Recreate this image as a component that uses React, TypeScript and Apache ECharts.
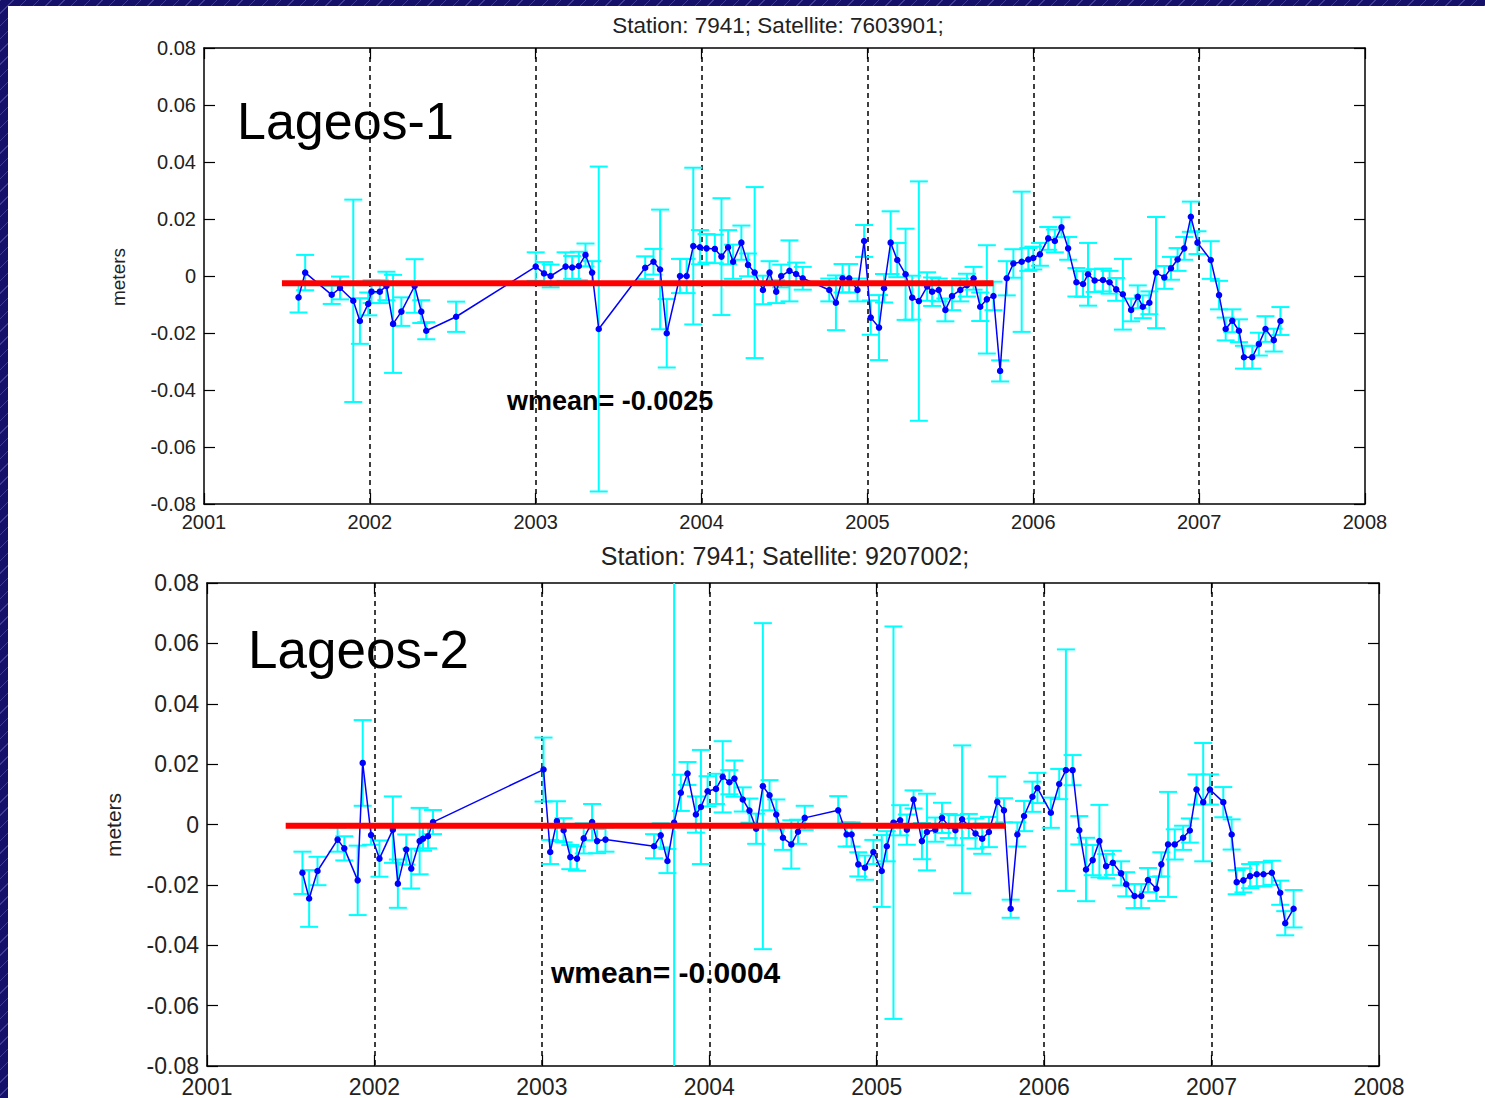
import React, { useEffect, useRef } from "react";
import * as echarts from "echarts";

// ---- Lageos-1 (satellite 7603901) residuals ----
const L1_YEARS = [
  2001.57, 2001.61, 2001.77, 2001.82, 2001.90, 2001.94, 2001.99, 2002.01, 2002.06, 2002.10, 2002.14, 2002.19, 2002.27, 2002.31, 2002.34, 2002.52,
  2003.00, 2003.05, 2003.09, 2003.18, 2003.22, 2003.26, 2003.30, 2003.34, 2003.38,
  2003.66, 2003.71, 2003.75, 2003.79, 2003.87, 2003.91, 2003.95, 2003.99, 2004.03, 2004.08, 2004.12, 2004.16, 2004.19, 2004.24, 2004.28, 2004.32, 2004.37, 2004.41, 2004.45, 2004.48, 2004.53, 2004.57, 2004.61,
  2004.77, 2004.81, 2004.85, 2004.89, 2004.94, 2004.98, 2005.02, 2005.07, 2005.10, 2005.14, 2005.18, 2005.23, 2005.27, 2005.31, 2005.36, 2005.39, 2005.43, 2005.47, 2005.51, 2005.56, 2005.60, 2005.64, 2005.68, 2005.72, 2005.76, 2005.80, 2005.84, 2005.88,
  2005.93, 2005.97, 2006.00, 2006.04, 2006.09, 2006.13, 2006.17, 2006.21, 2006.26, 2006.30, 2006.33, 2006.37, 2006.42, 2006.46, 2006.50, 2006.54, 2006.59, 2006.63, 2006.66, 2006.70, 2006.74, 2006.79, 2006.83, 2006.87, 2006.91, 2006.95, 2006.99, 2007.07, 2007.12, 2007.16, 2007.20, 2007.24, 2007.27, 2007.32, 2007.36, 2007.40, 2007.45, 2007.49,
];
const L1_VALUES = [
  -0.0075, 0.0012, -0.0066, -0.0042, -0.0087, -0.0158, -0.0098, -0.0055, -0.0055, -0.0035, -0.0168, -0.0125, -0.0035, -0.0125, -0.0192, -0.0143,
  0.0033, 0.0009, 0.0, 0.0033, 0.0030, 0.0035, 0.0074, 0.0012, -0.0186,
  0.0029, 0.0050, 0.0023, -0.0201, 0.0, 0.0, 0.0105, 0.0101, 0.0097, 0.0095, 0.0068, 0.0101, 0.0050, 0.0117, 0.0039, 0.0012, -0.0049, 0.0012, -0.0055, 0.0, 0.0018, 0.0007, -0.0008,
  -0.0049, -0.0094, -0.0008, -0.0008, -0.0049, 0.0123, -0.0146, -0.0181, -0.0043, 0.0117, 0.0056, 0.0006, -0.0076, -0.0088, -0.0037, -0.0055, -0.0049, -0.0119, -0.0070, -0.0049, -0.0032, -0.0008, -0.0108, -0.0082, -0.0070, -0.0333, -0.0008, 0.0044,
  0.0050, 0.0058, 0.0063, 0.0076, 0.0132, 0.0123, 0.0171, 0.0097, -0.0022, -0.0028, 0.0006, -0.0016, -0.0014, -0.0022, -0.0047, -0.0064, -0.0119, -0.0073, -0.0108, -0.0094, 0.0012, -0.0005, 0.0027, 0.0058, 0.0097, 0.0208, 0.0117, 0.0056, -0.0067, -0.0186, -0.0157, -0.0192, -0.0285, -0.0285, -0.0239, -0.0186, -0.0225, -0.0158,
];
const L1_ERRORS = [
  0.0053, 0.0062, 0.0032, 0.004, 0.0355, 0.008, 0.004, 0.004, 0.004, 0.005, 0.0172, 0.005, 0.0094, 0.004, 0.003, 0.0053,
  0.005, 0.004, 0.004, 0.005, 0.004, 0.005, 0.004, 0.004, 0.057,
  0.004, 0.0045, 0.021, 0.012, 0.006, 0.006, 0.0275, 0.006, 0.005, 0.005, 0.0205, 0.006, 0.006, 0.006, 0.004, 0.030, 0.005, 0.004, 0.004, 0.004, 0.0107, 0.004, 0.004,
  0.004, 0.0096, 0.005, 0.005, 0.004, 0.0056, 0.006, 0.0114, 0.005, 0.011, 0.006, 0.016, 0.0077, 0.042, 0.005, 0.005, 0.004, 0.004, 0.005, 0.004, 0.004, 0.004, 0.005, 0.019, 0.005, 0.0037, 0.006, 0.005,
  0.0246, 0.004, 0.004, 0.004, 0.004, 0.004, 0.0035, 0.004, 0.005, 0.0045, 0.011, 0.004, 0.004, 0.004, 0.004, 0.0124, 0.004, 0.004, 0.004, 0.004, 0.0195, 0.004, 0.004, 0.004, 0.004, 0.0053, 0.004, 0.0066, 0.005, 0.004, 0.004, 0.004, 0.004, 0.004, 0.004, 0.0045, 0.004, 0.0049,
];
const L1_WMEAN = -0.0025;
const L1_WMEAN_SPAN = [2001.47, 2005.76];

// ---- Lageos-2 (satellite 9207002) residuals ----
const L2_YEARS = [
  2001.57, 2001.61, 2001.66, 2001.78, 2001.82, 2001.90, 2001.93, 2001.98, 2002.03, 2002.11, 2002.14, 2002.19, 2002.22, 2002.27, 2002.29, 2002.32, 2002.35,
  2003.01, 2003.05, 2003.09, 2003.13, 2003.17, 2003.21, 2003.25, 2003.30, 2003.33, 2003.38,
  2003.67, 2003.71, 2003.75, 2003.79, 2003.83, 2003.87, 2003.92, 2003.95, 2003.99, 2004.04, 2004.08, 2004.12, 2004.15, 2004.20, 2004.24, 2004.28, 2004.32, 2004.36, 2004.40, 2004.44, 2004.49, 2004.53, 2004.57,
  2004.77, 2004.82, 2004.85, 2004.89, 2004.93, 2004.98, 2005.03, 2005.06, 2005.10, 2005.14, 2005.18, 2005.22, 2005.27, 2005.30, 2005.35, 2005.39, 2005.43, 2005.47, 2005.51, 2005.55, 2005.59, 2005.63, 2005.67, 2005.72, 2005.76, 2005.80, 2005.84,
  2005.88, 2005.93, 2005.96, 2006.04, 2006.09, 2006.13, 2006.17, 2006.21, 2006.25, 2006.29, 2006.33, 2006.37, 2006.41, 2006.46, 2006.49, 2006.54, 2006.58, 2006.62, 2006.67, 2006.70, 2006.74, 2006.78, 2006.83, 2006.87, 2006.91, 2006.95, 2006.99, 2007.07, 2007.12, 2007.15, 2007.19, 2007.23, 2007.27, 2007.31, 2007.36, 2007.41, 2007.44, 2007.49,
];
const L2_VALUES = [
  -0.0160, -0.0245, -0.0154, -0.0050, -0.0079, -0.0185, 0.0204, -0.0035, -0.0113, -0.0017, -0.0196, -0.0083, -0.0146, -0.0055, -0.0047, -0.0039, 0.0008,
  0.0182, -0.0091, 0.0011, -0.0019, -0.0108, -0.0113, -0.0046, 0.0008, -0.0055, -0.0050,
  -0.0072, -0.0036, -0.0121, 0.0006, 0.0105, 0.0169, 0.0033, 0.0058, 0.0110, 0.0118, 0.0158, 0.0140, 0.0152, 0.0083, 0.0046, -0.0014, 0.0127, 0.0097, 0.0033, -0.0044, -0.0066, -0.0024, 0.0022,
  0.0047, -0.0033, -0.0033, -0.0132, -0.0143, -0.0091, -0.0154, -0.0072, 0.0006, 0.0014, -0.0017, 0.0083, -0.0055, -0.0025, -0.0017, 0.0022, -0.0005, -0.0019, 0.0017, -0.0005, -0.0030, -0.0047, -0.0025, 0.0075, 0.0047, -0.0279, -0.0033,
  0.0028, 0.0092, 0.0121, 0.0039, 0.0134, 0.0180, 0.0180, -0.0019, -0.0149, -0.0118, -0.0055, -0.0138, -0.0127, -0.0162, -0.0198, -0.0237, -0.0237, -0.0184, -0.0213, -0.0132, -0.0066, -0.0066, -0.0044, -0.0020, 0.0116, 0.0074, 0.0116, 0.0074, -0.0033, -0.0191, -0.0185, -0.0171, -0.0165, -0.0165, -0.0160, -0.0226, -0.0327, -0.0279,
];
const L2_ERRORS = [
  0.0070, 0.0094, 0.0047, 0.004, 0.004, 0.0115, 0.0142, 0.0032, 0.006, 0.011, 0.008, 0.005, 0.0066, 0.011, 0.004, 0.004, 0.004,
  0.0106, 0.004, 0.0066, 0.004, 0.004, 0.004, 0.005, 0.006, 0.004, 0.004,
  0.004, 0.004, 0.004, 0.12, 0.006, 0.0038, 0.006, 0.0189, 0.005, 0.005, 0.0118, 0.004, 0.006, 0.004, 0.004, 0.005, 0.054, 0.005, 0.005, 0.004, 0.008, 0.004, 0.004,
  0.0047, 0.004, 0.004, 0.004, 0.004, 0.004, 0.0119, 0.005, 0.065, 0.005, 0.005, 0.003, 0.006, 0.0127, 0.004, 0.005, 0.004, 0.005, 0.0245, 0.004, 0.005, 0.005, 0.005, 0.0084, 0.004, 0.003, 0.004,
  0.005, 0.005, 0.005, 0.005, 0.005, 0.040, 0.005, 0.0047, 0.0105, 0.005, 0.012, 0.004, 0.004, 0.004, 0.004, 0.004, 0.004, 0.004, 0.004, 0.004, 0.0174, 0.005, 0.004, 0.004, 0.005, 0.0196, 0.005, 0.005, 0.005, 0.004, 0.004, 0.004, 0.004, 0.004, 0.004, 0.004, 0.004, 0.0062,
];
const L2_WMEAN = -0.0004;
const L2_WMEAN_SPAN = [2001.47, 2005.77];

const X_RANGE = [2001, 2008];
const Y_RANGE = [-0.08, 0.08];

const FONT = '"Liberation Sans", Arial, Helvetica, sans-serif';
const NAVY = "#15106a";

type Panel = {
  title: string;
  label: string;
  wmeanText: string;
  years: number[];
  values: number[];
  errors: number[];
  wmean: number;
  span: number[];
  grid: { left: number; top: number; width: number; height: number };
  tickFont: number;
  xLabelMargin: number;
  titleFont: number;
  titlePos: [number, number];
  metersPos: [number, number];
  metersFont: number;
  labelPos: [number, number];
  labelFont: number;
  wmeanPos: [number, number];
  wmeanFont: number;
};

const PANELS: Panel[] = [
  {
    title: "Station: 7941; Satellite: 7603901;",
    label: "Lageos-1",
    wmeanText: "wmean= " + L1_WMEAN.toFixed(4),
    years: L1_YEARS,
    values: L1_VALUES,
    errors: L1_ERRORS,
    wmean: L1_WMEAN,
    span: L1_WMEAN_SPAN,
    grid: { left: 204, top: 48, width: 1161, height: 456 },
    tickFont: 20,
    xLabelMargin: 8,
    titleFont: 22.5,
    titlePos: [778, 25],
    metersPos: [118, 277],
    metersFont: 19,
    labelPos: [237, 121],
    labelFont: 52,
    wmeanPos: [507, 401],
    wmeanFont: 27,
  },
  {
    title: "Station: 7941; Satellite: 9207002;",
    label: "Lageos-2",
    wmeanText: "wmean= " + L2_WMEAN.toFixed(4),
    years: L2_YEARS,
    values: L2_VALUES,
    errors: L2_ERRORS,
    wmean: L2_WMEAN,
    span: L2_WMEAN_SPAN,
    grid: { left: 207, top: 583, width: 1172, height: 484 },
    tickFont: 23,
    xLabelMargin: 9,
    titleFont: 25,
    titlePos: [785, 556],
    metersPos: [113, 825],
    metersFont: 21,
    labelPos: [248, 649],
    labelFont: 53,
    wmeanPos: [551, 972],
    wmeanFont: 30,
  },
];

const yLabel = (v: number) => {
  const r = Math.round(v * 100) / 100;
  return r === 0 ? "0" : r.toFixed(2);
};

const xLabel = (v: number) => String(Math.round(v));

// Vertical error bar with short caps, clamped to the plotting box.
const renderErrorBar = (params: any, api: any) => {
  const x = api.value(0);
  const lo = api.coord([x, api.value(1)]);
  const hi = api.coord([x, api.value(2)]);
  const cs = params.coordSys;
  const top = cs.y;
  const bottom = cs.y + cs.height;
  const px = lo[0];
  const y1 = Math.max(top, hi[1]);
  const y2 = Math.min(bottom, lo[1]);
  const style = { stroke: "#00ffff", lineWidth: 2 };
  const children: any[] = [
    { type: "line", shape: { x1: px, y1, x2: px, y2 }, style },
  ];
  const cap = 9;
  if (hi[1] >= top) children.push({ type: "line", shape: { x1: px - cap, y1: hi[1], x2: px + cap, y2: hi[1] }, style });
  if (lo[1] <= bottom) children.push({ type: "line", shape: { x1: px - cap, y1: lo[1], x2: px + cap, y2: lo[1] }, style });
  return { type: "group", children };
};

function buildOption() {
  const grid: any[] = [];
  const xAxis: any[] = [];
  const yAxis: any[] = [];
  const series: any[] = [];
  const graphic: any[] = [];

  PANELS.forEach((p, i) => {
    grid.push({ ...p.grid, containLabel: false });

    const boxLine = { show: true, onZero: false, lineStyle: { color: "#000", width: 1.5 } };
    const innerTick = { show: true, inside: true, length: 11, lineStyle: { color: "#000", width: 1.2 } };

    xAxis.push({
      gridIndex: i,
      type: "value",
      position: "bottom",
      min: X_RANGE[0],
      max: X_RANGE[1],
      interval: 1,
      axisLine: boxLine,
      axisTick: innerTick,
      axisLabel: { fontSize: p.tickFont, fontFamily: FONT, color: "#222", margin: p.xLabelMargin, formatter: xLabel },
      splitLine: {
        show: true,
        showMinLine: false,
        showMaxLine: false,
        lineStyle: { color: "#000", width: 1.5, type: [5, 4] },
      },
    });
    xAxis.push({
      gridIndex: i,
      type: "value",
      position: "top",
      min: X_RANGE[0],
      max: X_RANGE[1],
      interval: 1,
      axisLine: boxLine,
      axisTick: innerTick,
      axisLabel: { show: false },
      splitLine: { show: false },
    });
    yAxis.push({
      gridIndex: i,
      type: "value",
      position: "left",
      min: Y_RANGE[0],
      max: Y_RANGE[1],
      interval: 0.02,
      axisLine: boxLine,
      axisTick: innerTick,
      axisLabel: { fontSize: p.tickFont, fontFamily: FONT, color: "#222", margin: 8, formatter: yLabel },
      splitLine: { show: false },
    });
    yAxis.push({
      gridIndex: i,
      type: "value",
      position: "right",
      min: Y_RANGE[0],
      max: Y_RANGE[1],
      interval: 0.02,
      axisLine: boxLine,
      axisTick: innerTick,
      axisLabel: { show: false },
      splitLine: { show: false },
    });

    const xi = i * 2;
    const yi = i * 2;

    series.push({
      type: "custom",
      name: p.label + " errors",
      xAxisIndex: xi,
      yAxisIndex: yi,
      renderItem: renderErrorBar,
      encode: { x: 0, y: [1, 2] },
      data: p.years.map((x, k) => [x, p.values[k] - p.errors[k], p.values[k] + p.errors[k]]),
      z: 2,
      silent: true,
    });
    series.push({
      type: "line",
      name: p.label,
      xAxisIndex: xi,
      yAxisIndex: yi,
      data: p.years.map((x, k) => [x, p.values[k]]),
      symbol: "circle",
      symbolSize: 6.5,
      showAllSymbol: true,
      itemStyle: { color: "#0000ff" },
      lineStyle: { color: "#0000ff", width: 1.5 },
      z: 3,
      silent: true,
    });
    series.push({
      type: "line",
      name: p.label + " wmean",
      xAxisIndex: xi,
      yAxisIndex: yi,
      data: [
        [p.span[0], p.wmean],
        [p.span[1], p.wmean],
      ],
      symbol: "none",
      lineStyle: { color: "#ff0000", width: 6, cap: "butt" },
      z: 4,
      silent: true,
    });

    graphic.push(
      {
        type: "text",
        x: p.titlePos[0],
        y: p.titlePos[1],
        style: {
          text: p.title,
          font: `${p.titleFont}px ${FONT}`,
          fill: "#222",
          textAlign: "center",
          textVerticalAlign: "middle",
        },
      },
      {
        type: "text",
        x: p.metersPos[0],
        y: p.metersPos[1],
        rotation: Math.PI / 2,
        style: {
          text: "meters",
          font: `${p.metersFont}px ${FONT}`,
          fill: "#222",
          textAlign: "center",
          textVerticalAlign: "middle",
        },
      },
      {
        type: "text",
        x: p.labelPos[0],
        y: p.labelPos[1],
        z: 10,
        style: {
          text: p.label,
          font: `${p.labelFont}px ${FONT}`,
          fill: "#000",
          textAlign: "left",
          textVerticalAlign: "middle",
        },
      },
      {
        type: "text",
        x: p.wmeanPos[0],
        y: p.wmeanPos[1],
        z: 10,
        style: {
          text: p.wmeanText,
          font: `bold ${p.wmeanFont}px ${FONT}`,
          fill: "#000",
          textAlign: "left",
          textVerticalAlign: "middle",
        },
      }
    );
  });

  return {
    animation: false,
    backgroundColor: "transparent",
    grid,
    xAxis,
    yAxis,
    series,
    graphic,
  };
}

export default function App() {
  const ref = useRef<HTMLDivElement>(null);

  useEffect(() => {
    if (!ref.current) return;
    const chart = echarts.init(ref.current, undefined, { renderer: "svg" });
    chart.setOption(buildOption());
    return () => chart.dispose();
  }, []);

  return (
    <div
      style={{
        position: "fixed",
        left: 0,
        top: 0,
        width: 1485,
        height: 1098,
        overflow: "hidden",
        backgroundColor: NAVY,
        backgroundImage:
          "repeating-linear-gradient(135deg, rgba(140,140,220,0.35) 0px, rgba(140,140,220,0.35) 1px, transparent 1px, transparent 9px)",
      }}
    >
      <div
        style={{
          position: "absolute",
          left: 8,
          top: 6,
          right: 0,
          bottom: 0,
          background: "#ffffff",
        }}
      />
      <div ref={ref} style={{ position: "absolute", left: 0, top: 0, width: 1485, height: 1098 }} />
    </div>
  );
}
